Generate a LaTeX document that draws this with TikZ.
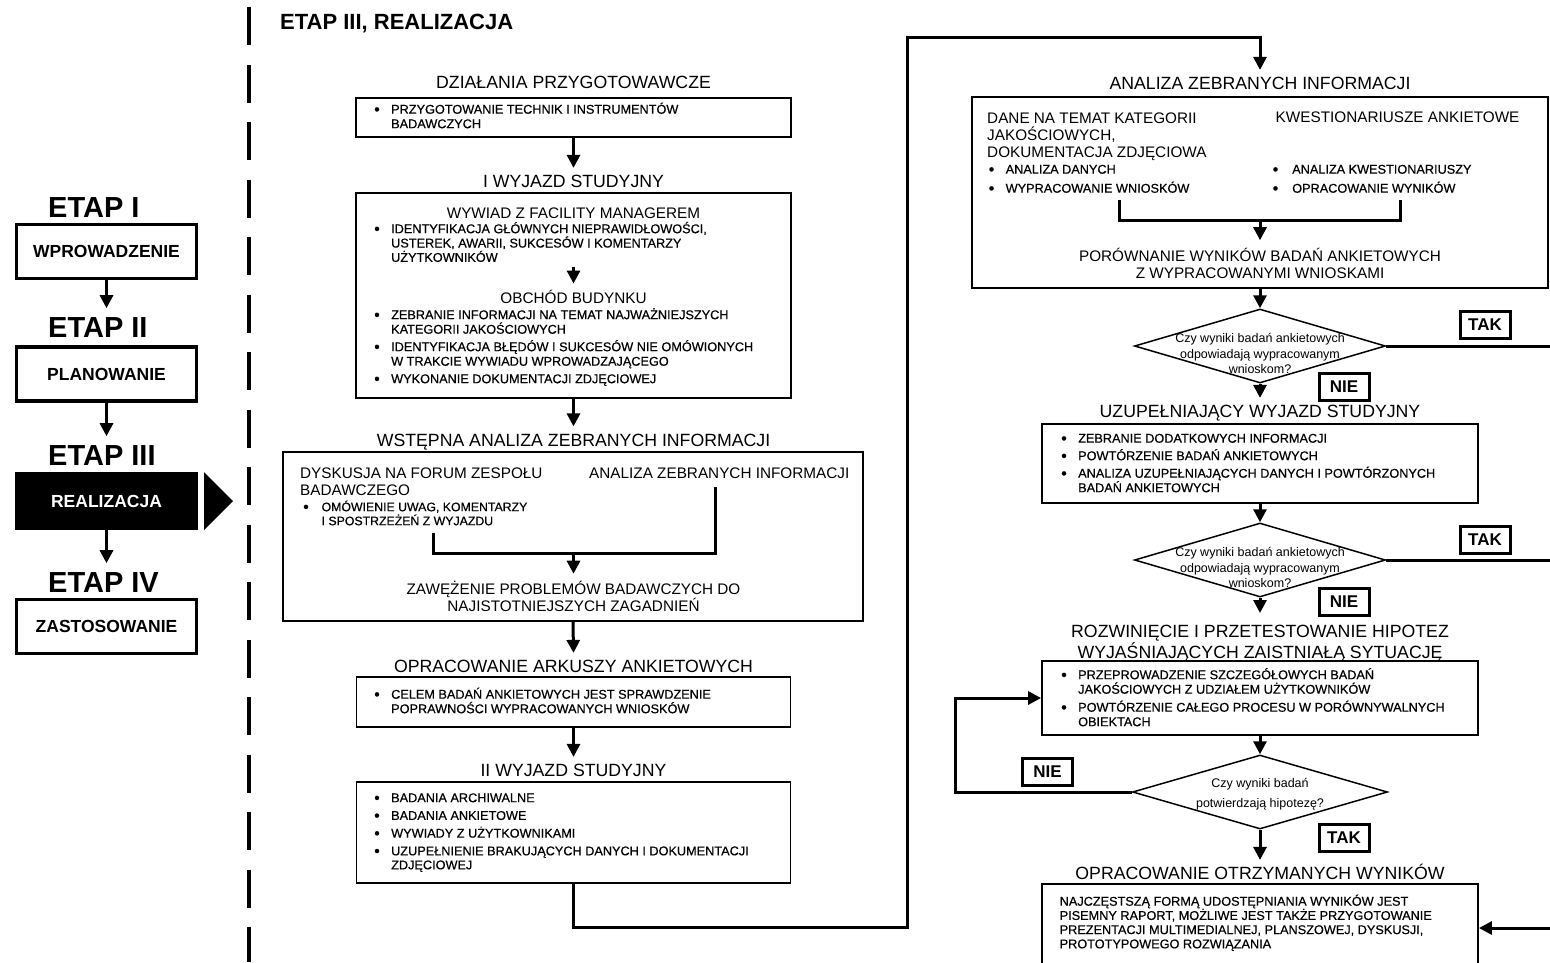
\documentclass[tikz,border=0pt]{standalone}
\usepackage{fontspec}
\setmainfont{Liberation Sans}
\newfontfamily\listfnt[FakeBold=0.5]{Liberation Sans}
\usetikzlibrary{arrows.meta,shapes.geometric}
% strut for the first line of multi-line nodes, bullet and hanging indent
\newcommand\tp{\rule{0pt}{1em}}
\newcommand\bl[1][17pt]{\makebox[#1][l]{\raisebox{-1pt}{\fontsize{16}{16}\selectfont\textbullet}}}
\newcommand\ind[1][17pt]{\hspace*{#1}}
\begin{document}
\begin{tikzpicture}[x=1pt,y=-1pt,
  box/.style={draw, line width=1.8pt, inner sep=0pt},
  stagebox/.style={draw, line width=3.5pt, minimum width=180pt, minimum height=54pt, inner sep=0pt,
    font=\bfseries\fontsize{17.5}{20}\selectfont},
  etap/.style={anchor=base west, inner sep=0pt, text height=21pt, font=\bfseries\fontsize{29}{32}\selectfont},
  ttl/.style={anchor=base, text height=12.7pt, text depth=3pt, inner xsep=2pt, inner ysep=7pt,
    font=\fontsize{17.7}{19.5}\selectfont},
  sub/.style={inner sep=0pt, font=\fontsize{15.3}{17}\selectfont},
  blist/.style={anchor=north west, align=left, inner sep=0pt, font=\listfnt\fontsize{12.7}{#1}\selectfont},
  blist/.default=14.5,
  conn/.style={line width=3pt},
  arr/.style={conn, -{Triangle[width=13pt,length=13pt]}},
  stagearr/.style={arr, shorten >=8pt},
  dec/.style={diamond, draw, line width=1.5pt, inner sep=0pt, minimum height=74pt},
  yn/.style={draw, line width=3pt, minimum width=50pt, minimum height=27pt, inner sep=0pt,
    font=\bfseries\fontsize{17}{20}\selectfont},
  qtext/.style={anchor=north, align=center, inner sep=0pt, font=\fontsize{12.5}{15.5}\selectfont},
]
\useasboundingbox (0,0) rectangle (1550,962);
\fill[white] (0,0) rectangle (1550,962);

% dashed separator between the stage list and the stage III chart
\draw[line width=4.3pt, dash pattern=on 38pt off 19.5pt] (249,7) -- (249,962);

% ---------- stages ----------
\node[etap] (e1) at (48,217.4) {ETAP I};
\node[stagebox] (s1) at (106.5,251.5) {WPROWADZENIE};
\node[etap] (e2) at (48,337.4) {ETAP II};
\node[stagebox] (s2) at (106.5,374) {PLANOWANIE};
\node[etap] (e3) at (48,465.4) {ETAP III};
\node[stagebox, fill=black, text=white] (s3) at (106.5,501) {REALIZACJA};
\node[etap] (e4) at (48,592.4) {ETAP IV};
\node[stagebox] (s4) at (106.5,626.5) {ZASTOSOWANIE};
\draw[stagearr] (s1.south) -- (s1.south |- e2.north);
\draw[stagearr] (s2.south) -- (s2.south |- e3.north);
\draw[stagearr] (s3.south) -- (s3.south |- e4.north);
\fill (204,472) -- (233,501) -- (204,530) -- cycle;

\node[anchor=base west, inner sep=0pt, font=\bfseries\fontsize{22}{26}\selectfont] (hdr) at (280,29) {ETAP III, REALIZACJA};

% ---------- middle column ----------
\node[ttl] (tA) at (573.5,88.3) {DZIAŁANIA PRZYGOTOWAWCZE};
\node[box, minimum width=435pt, minimum height=39pt] (b1) at (573.5,117.5) {};
\node[blist] (l1) at (374,100.8) {\tp\bl PRZYGOTOWANIE TECHNIK I INSTRUMENTÓW\\\ind BADAWCZYCH};

\node[ttl] (tB) at (573.5,187.8) {I WYJAZD STUDYJNY};
\node[box, minimum width=435pt, minimum height=205pt] (b2) at (573.5,295.5) {};
\node[sub, anchor=base] (hW) at (573.5,218) {WYWIAD Z FACILITY MANAGEREM};
\node[blist=14.3] (lA) at (374,220.3) {\tp\bl IDENTYFIKACJA GŁÓWNYCH NIEPRAWIDŁOWOŚCI,\\\ind USTEREK, AWARII, SUKCESÓW I KOMENTARZY\\\ind UŻYTKOWNIKÓW};
\node[sub, anchor=base] (hO) at (573.5,303) {OBCHÓD BUDYNKU};
\draw[arr, shorten <=5pt, shorten >=6pt] (lA.south -| b2.center) -- (hO.north);
\node[blist] (lB) at (374,306.3) {\tp\bl ZEBRANIE INFORMACJI NA TEMAT NAJWAŻNIEJSZYCH\\\ind KATEGORII JAKOŚCIOWYCH\\[3pt]\bl IDENTYFIKACJA BŁĘDÓW I SUKCESÓW NIE OMÓWIONYCH\\\ind W TRAKCIE WYWIADU WPROWADZAJĄCEGO\\[3pt]\bl WYKONANIE DOKUMENTACJI ZDJĘCIOWEJ};

\node[ttl] (tC) at (573.5,446.3) {WSTĘPNA ANALIZA ZEBRANYCH INFORMACJI};
\node[box, minimum width=580pt, minimum height=169pt] (b3) at (573,536.5) {};
\node[sub, anchor=north west, align=left, font=\fontsize{15.3}{17.5}\selectfont] (dK) at (300,462.7) {\tp DYSKUSJA NA FORUM ZESPOŁU\\BADAWCZEGO};
\node[sub, anchor=base west] (aZ) at (589,478) {ANALIZA ZEBRANYCH INFORMACJI};
\node[blist=14, font=\listfnt\fontsize{12.3}{14}\selectfont] (lC) at (303,498.7) {\tp\bl[15pt] OMÓWIENIE UWAG, KOMENTARZY\\\ind[15pt] I SPOSTRZEŻEŃ Z WYJAZDU};
\coordinate (k1) at (433,533);
\coordinate (k2) at (715,487);
\coordinate (k3) at (573.5,553);
\draw[conn] (k1) |- (k3) -| (k2);
\node[anchor=north, align=center, inner sep=0pt, font=\fontsize{15.3}{17}\selectfont] (zW) at (573.5,578.7) {\tp ZAWĘŻENIE PROBLEMÓW BADAWCZYCH DO\\NAJISTOTNIEJSZYCH ZAGADNIEŃ};
\draw[arr, shorten >=5pt] (k3) -- (zW.north);

\node[ttl] (tD) at (573.5,672.8) {OPRACOWANIE ARKUSZY ANKIETOWYCH};
\node[box, minimum width=434pt, minimum height=50pt] (b4) at (573.5,702) {};
\node[blist] (lD) at (374,685.8) {\tp\bl CELEM BADAŃ ANKIETOWYCH JEST SPRAWDZENIE\\\ind POPRAWNOŚCI WYPRACOWANYCH WNIOSKÓW};

\node[ttl] (tE) at (573.5,776.8) {II WYJAZD STUDYJNY};
\node[box, minimum width=434pt, minimum height=101pt] (b5) at (573.5,832.5) {};
\node[blist=14] (lE) at (374,789.3) {\tp\bl BADANIA ARCHIWALNE\\[3.7pt]\bl BADANIA ANKIETOWE\\[3.7pt]\bl WYWIADY Z UŻYTKOWNIKAMI\\[3.7pt]\bl UZUPEŁNIENIE BRAKUJĄCYCH DANYCH I DOKUMENTACJI\\\ind ZDJĘCIOWEJ};

\draw[arr] (b1.south) -- (tB.north);
\draw[arr] (b2.south) -- (tC.north);
\draw[arr] (b3.south) -- (tD.north);
\draw[arr] (b4.south) -- (tE.north);

% ---------- right column ----------
\node[ttl] (tR1) at (1260,89.8) {ANALIZA ZEBRANYCH INFORMACJI};
\node[box, minimum width=576pt, minimum height=191pt] (b6) at (1260,192.5) {};
\node[sub, anchor=north west, align=left, font=\fontsize{15.3}{17}\selectfont] (dN) at (987,108.2) {\tp DANE NA TEMAT KATEGORII\\JAKOŚCIOWYCH,\\DOKUMENTACJA ZDJĘCIOWA};
\node[sub, anchor=base west] (kW) at (1275.5,122) {KWESTIONARIUSZE ANKIETOWE};
\node[blist=19] (lF) at (988.5,160.8) {\tp\bl ANALIZA DANYCH\\\bl WYPRACOWANIE WNIOSKÓW};
\node[blist=19] (lG) at (1272.5,160.8) {\tp\bl[16pt] ANALIZA KWESTIONARIUSZY\\\bl[16pt] OPRACOWANIE WYNIKÓW};
\coordinate (k4) at (1119,200);
\coordinate (k5) at (1400.5,200);
\coordinate (k6) at (1260,220);
\draw[conn] (k4) |- (k6) -| (k5);
\node[anchor=north, align=center, inner sep=0pt, font=\fontsize{15.3}{16.5}\selectfont] (pW) at (1260,246.2) {\tp PORÓWNANIE WYNIKÓW BADAŃ ANKIETOWYCH\\Z WYPRACOWANYMI WNIOSKAMI};
\draw[arr, shorten >=6pt] (k6) -- (pW.north);

% first check of the survey results
\node[dec, minimum width=251pt] (d1) at (1260,346) {};
\node[qtext] (q1) at (1260,330) {\tp Czy wyniki badań ankietowych\\odpowiadają wypracowanym\\wnioskom?};
\node[yn] (y1) at (1485,325) {TAK};
\node[yn] (n1) at (1344,386.5) {NIE};
\draw[arr] (b6.south) -- (d1.north);

\node[ttl] (tU) at (1260,417.8) {UZUPEŁNIAJĄCY WYJAZD STUDYJNY};
\node[box, minimum width=436pt, minimum height=79pt] (b7) at (1260,463.5) {};
\node[blist] (lH) at (1061,429.8) {\tp\bl ZEBRANIE DODATKOWYCH INFORMACJI\\[3pt]\bl POWTÓRZENIE BADAŃ ANKIETOWYCH\\[3pt]\bl ANALIZA UZUPEŁNIAJĄCYCH DANYCH I POWTÓRZONYCH\\\ind BADAŃ ANKIETOWYCH};
\draw[arr] (d1.south) -- (tU.north);

% second check of the survey results
\node[dec, minimum width=251pt] (d2) at (1260,560) {};
\node[qtext] (q2) at (1260,544) {\tp Czy wyniki badań ankietowych\\odpowiadają wypracowanym\\wnioskom?};
\node[yn] (y2) at (1485,540) {TAK};
\node[yn] (n2) at (1344,601.5) {NIE};
\draw[arr] (b7.south) -- (d2.north);

\node[anchor=north, align=center, inner sep=0pt, font=\fontsize{17.7}{19.5}\selectfont] (tR2) at (1260,619.6) {\tp ROZWINIĘCIE I PRZETESTOWANIE HIPOTEZ\\WYJAŚNIAJĄCYCH ZAISTNIAŁĄ SYTUACJĘ};
\draw[arr, shorten >=6.6pt] (d2.south) -- (tR2.north);
\node[box, minimum width=436pt, minimum height=74pt] (b8) at (1260,698) {};
\node[blist] (lI) at (1061,666.3) {\tp\bl PRZEPROWADZENIE SZCZEGÓŁOWYCH BADAŃ\\\ind JAKOŚCIOWYCH Z UDZIAŁEM UŻYTKOWNIKÓW\\[3.5pt]\bl POWTÓRZENIE CAŁEGO PROCESU W PORÓWNYWALNYCH\\\ind OBIEKTACH};

% hypothesis check with the loop back
\node[dec, minimum width=255pt] (d3) at (1260,792) {};
\node[qtext, font=\fontsize{12.5}{20}\selectfont] (q3) at (1260,775) {\tp Czy wyniki badań\\potwierdzają hipotezę?};
\node[yn] (n3) at (1047.5,772) {NIE};
\node[yn] (y3) at (1344,837.5) {TAK};
\draw[arr] (b8.south) -- (d3.north);
\coordinate (lp) at (955.5,792);
\draw[arr] (d3.west) -- (lp) |- (b8.west);

\node[ttl] (tO) at (1260,879.8) {OPRACOWANIE OTRZYMANYCH WYNIKÓW};
\node[box, minimum width=436pt, minimum height=88pt] (b9) at (1260,928) {};
\node[blist=14.2] (lJ) at (1059.5,892.8) {\tp NAJCZĘSTSZĄ FORMĄ UDOSTĘPNIANIA WYNIKÓW JEST\\PISEMNY RAPORT, MOŻLIWE JEST TAKŻE PRZYGOTOWANIE\\PREZENTACJI MULTIMEDIALNEJ, PLANSZOWEJ, DYSKUSJI,\\PROTOTYPOWEGO ROZWIĄZANIA};
\draw[arr] (d3.south) -- (tO.north);

% "TAK" branches run along the right margin into the final box
\coordinate (rail) at (1557,346);
\draw[conn] (d1.east) -- (rail);
\draw[conn] (d2.east) -- (d2.east -| rail);
\draw[arr] (rail) |- (b9.east);

% connector from the second study trip to the analysis
\coordinate (c1) at (907.5,927);
\coordinate (c2) at (907.5,37);
\draw[arr] (b5.south) |- (c1) -- (c2) -| (tR1.north);
\end{tikzpicture}
\end{document}
